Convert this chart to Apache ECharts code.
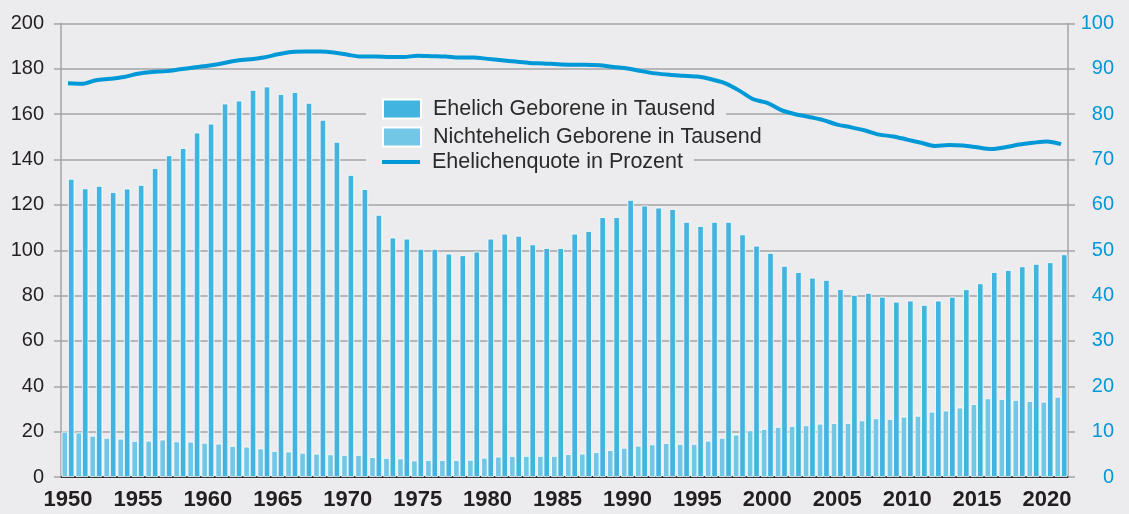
<!DOCTYPE html>
<html>
<head>
<meta charset="utf-8">
<title>Geborene</title>
<script src="https://cdn.jsdelivr.net/npm/echarts@6/dist/echarts.min.js"></script>
<style>
  body { margin: 0; background: #ececee; }
  #main { width: 1129px; height: 514px; }
</style>
</head>
<body>
<div id="main"></div>
<script>
// Jahre (x-Achse)
const years = ['1950','1951','1952','1953','1954','1955','1956','1957','1958','1959',
  '1960','1961','1962','1963','1964','1965','1966','1967','1968','1969',
  '1970','1971','1972','1973','1974','1975','1976','1977','1978','1979',
  '1980','1981','1982','1983','1984','1985','1986','1987','1988','1989',
  '1990','1991','1992','1993','1994','1995','1996','1997','1998','1999',
  '2000','2001','2002','2003','2004','2005','2006','2007','2008','2009',
  '2010','2011','2012','2013','2014','2015','2016','2017','2018','2019',
  '2020','2021'];

// Ehelich Geborene in Tausend
const ehelich = [131.5,127.3,128.4,125.7,127.2,128.8,136.2,141.9,145.1,151.9,
  155.8,164.7,166.0,170.7,172.2,168.9,169.8,165.0,157.5,147.8,
  133.2,127.0,115.6,105.6,105.1,100.6,100.6,98.5,97.8,99.4,
  105.1,107.3,106.4,102.6,101.0,101.0,107.3,108.5,114.6,114.6,
  122.2,119.7,118.8,118.2,112.5,110.7,112.5,112.5,107.0,102.0,
  98.8,93.1,90.4,87.9,86.9,82.9,80.3,81.2,79.5,77.3,
  77.8,75.9,77.8,79.5,82.8,85.4,90.4,91.3,92.9,94.0,
  94.7,98.2];

// Nichtehelich Geborene in Tausend
const nichtehelich = [20.0,19.6,18.2,17.3,16.9,15.9,16.0,16.5,15.7,15.6,
  15.1,14.7,13.7,13.4,12.6,11.5,11.2,10.7,10.3,10.0,
  9.7,9.7,8.8,8.4,8.2,7.3,7.5,7.5,7.5,7.6,
  8.5,9.0,9.3,9.3,9.3,9.3,10.1,10.3,11.0,11.9,
  12.9,13.8,14.4,15.0,14.6,14.6,16.0,17.3,18.7,20.6,
  21.2,22.1,22.5,22.8,23.5,23.8,23.8,25.0,25.9,25.6,
  26.6,27.0,28.8,29.3,30.6,32.2,34.7,34.4,34.0,33.5,
  33.2,35.4];

// Ehelichenquote in Prozent (rechte Achse)
const quote = [86.8,86.7,87.5,87.8,88.2,88.9,89.3,89.5,89.9,90.3,
  90.7,91.2,91.8,92.1,92.5,93.2,93.7,93.8,93.8,93.6,
  93.1,92.7,92.7,92.6,92.6,92.9,92.8,92.7,92.5,92.5,
  92.2,91.9,91.6,91.3,91.2,91.0,90.9,90.9,90.8,90.4,
  90.1,89.5,89.0,88.7,88.5,88.3,87.7,86.8,85.2,83.3,
  82.5,80.9,80.0,79.4,78.7,77.7,77.1,76.4,75.5,75.1,
  74.4,73.7,73.0,73.2,73.1,72.7,72.3,72.7,73.3,73.7,
  74.0,73.4];

const bg = '#ececee';
const gridGrey = '#a4a4a6';
const darkBlue = '#41b4e0';
const lightBlue = '#72c7e7';
const lineBlue = '#0098d6';
const font = '"Liberation Sans", Arial, sans-serif';

let chart = echarts.init(document.getElementById('main'));

// ein Legendeneintrag je Zeile, jeweils mit eigenem Hintergrund
function legendRow(name, top, itemHeight) {
  return {
    data: [name],
    left: 366,
    top: top,
    orient: 'vertical',
    itemWidth: 38,
    itemHeight: itemHeight,
    padding: [2, 11, 2, 16],
    itemGap: 0,
    backgroundColor: bg,
    icon: 'rect',
    selectedMode: false,
    textStyle: { fontFamily: font, fontSize: 21.5, color: '#2a2a2a', padding: [0, 0, 0, 7] }
  };
}

let option = {
  backgroundColor: bg,
  animation: false,
  grid: { left: 61, right: 61, top: 23.5, bottom: 37 },
  legend: [
    legendRow('Ehelich Geborene in Tausend', 96, 19),
    legendRow('Nichtehelich Geborene in Tausend', 124, 19),
    legendRow('Ehelichenquote in Prozent', 149, 4)
  ],
  xAxis: {
    type: 'category',
    data: years,
    boundaryGap: true,
    axisLine: { lineStyle: { color: '#2a2a2a', width: 2 } },
    axisTick: {
      alignWithLabel: true,
      interval: function (i) { return i % 5 === 0; },
      length: 6,
      lineStyle: { color: gridGrey, width: 1.5 }
    },
    axisLabel: {
      interval: function (i) { return i % 5 === 0; },
      fontFamily: font,
      fontSize: 22,
      fontWeight: 'bold',
      color: '#231f20',
      margin: 12
    }
  },
  yAxis: [
    {
      type: 'value',
      min: 0, max: 200, interval: 20,
      axisLine: { show: true, lineStyle: { color: gridGrey, width: 1.5 } },
      axisTick: { show: true, length: 7, lineStyle: { color: gridGrey, width: 1.5 } },
      splitLine: { lineStyle: { color: gridGrey, width: 1.5 } },
      axisLabel: { fontFamily: font, fontSize: 20, color: '#231f20', margin: 17 }
    },
    {
      type: 'value',
      min: 0, max: 100, interval: 10,
      position: 'right',
      axisLine: { show: true, lineStyle: { color: gridGrey, width: 1.5 } },
      axisTick: { show: true, length: 7, lineStyle: { color: gridGrey, width: 1.5 } },
      splitLine: { show: false },
      axisLabel: { fontFamily: font, fontSize: 20, color: lineBlue, margin: 46, align: 'right' }
    }
  ],
  series: [
    {
      name: 'Nichtehelich Geborene in Tausend',
      type: 'bar',
      data: nichtehelich,
      barWidth: 6.4,
      barGap: '0%',
      itemStyle: { color: lightBlue, borderColor: '#ffffff', borderWidth: 0.8 }
    },
    {
      name: 'Ehelich Geborene in Tausend',
      type: 'bar',
      data: ehelich,
      barWidth: 6.4,
      barGap: '0%',
      itemStyle: { color: darkBlue, borderColor: '#ffffff', borderWidth: 0.8 }
    },
    {
      name: 'Ehelichenquote in Prozent',
      type: 'line',
      yAxisIndex: 1,
      data: quote,
      smooth: 0.3,
      symbol: 'none',
      z: 5,
      lineStyle: { color: lineBlue, width: 4 },
      itemStyle: { color: lineBlue }
    }
  ]
};

chart.setOption(option);
</script>
</body>
</html>
